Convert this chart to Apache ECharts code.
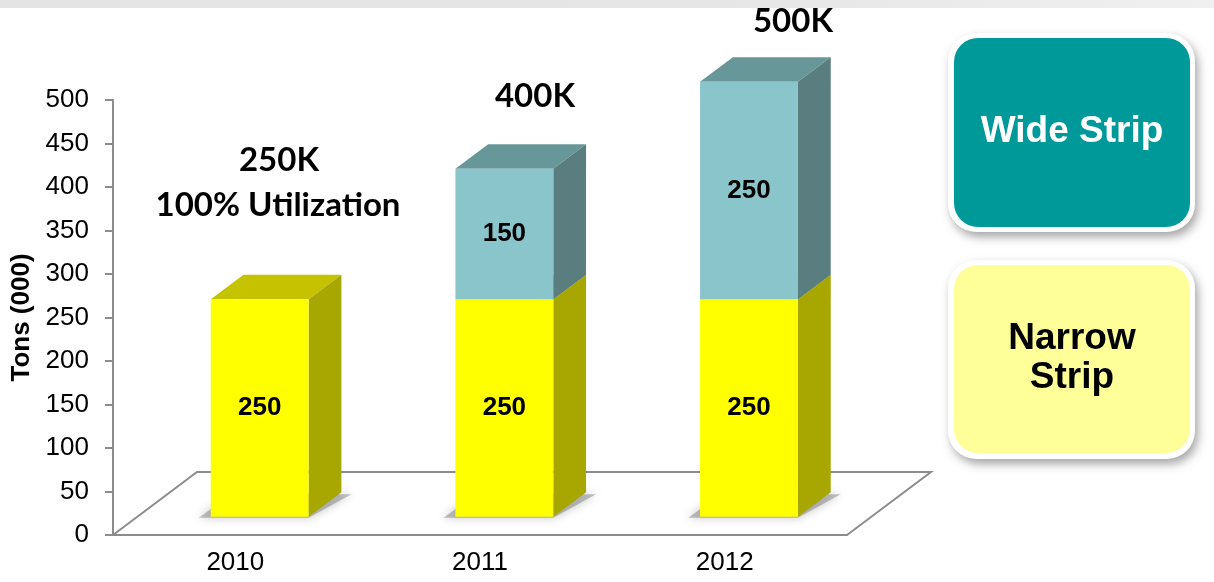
<!DOCTYPE html>
<html>
<head>
<meta charset="utf-8">
<title>Tons (000)</title>
<script src="https://cdn.jsdelivr.net/npm/echarts@6/dist/echarts.min.js"></script>
<style>
  html, body { margin: 0; padding: 0; background: #ffffff; }
  #chart { width: 1214px; height: 582px; }
</style>
</head>
<body>
<div id="chart"></div>
<script>
// Capacity by year, in thousands of tons
const years = ['2010', '2011', '2012'];
const narrowStrip = [250, 250, 250];
const wideStrip = [0, 150, 250];
const yTicks = { min: 0, max: 500, interval: 50 };

// Pseudo-3D projection: depth vector of the floor, and where the boxes sit in it
const DEPTH = [84, -63];
const BAR_FRONT = 0.29;   // fraction of depth to the front face of each box
const BAR_DEPTH = 0.39;   // fraction of depth occupied by each box
const BAR_WIDTH = 0.40;   // fraction of the category band

const palette = {
  narrow: { front: '#FFFF00', top: '#C5C300', side: '#A8A600' },
  wide:   { front: '#8AC5CB', top: '#689799', side: '#5A7E80' }
};

function segments(values, below) {
  return values.map((v, i) => {
    const base = below ? below[i] : 0;
    return [i, base, base + v, v];
  });
}

function boxRenderer(colors) {
  return function (params, api) {
    const v = api.value(3);
    if (!v) return null;
    const cat = api.value(0);
    const band = api.size([1, 0])[0];
    const w = band * BAR_WIDTH;
    const pb = api.coord([cat, api.value(1)]);
    const pt = api.coord([cat, api.value(2)]);
    const ox = DEPTH[0] * BAR_FRONT, oy = DEPTH[1] * BAR_FRONT;
    const dx = DEPTH[0] * BAR_DEPTH, dy = DEPTH[1] * BAR_DEPTH;
    const x0 = pb[0] - w / 2 + ox, x1 = x0 + w;
    const yb = pb[1] + oy, yt = pt[1] + oy;
    const children = [];
    if (api.value(1) === 0) {
      // soft shadow cast on the floor
      children.push({
        type: 'polygon',
        shape: { points: [[x0 - 12, yb + 1], [x1, yb + 1], [x1 + dx + 10, yb + dy + 2], [x0 + dx - 12, yb + dy + 2]] },
        style: { fill: 'rgba(130,130,130,0.5)', shadowBlur: 10, shadowColor: 'rgba(110,110,110,0.8)' },
        z2: 0
      });
    }
    children.push(
      {
        type: 'polygon',
        shape: { points: [[x0, yt], [x1, yt], [x1 + dx, yt + dy], [x0 + dx, yt + dy]] },
        style: { fill: colors.top }, z2: 1
      },
      {
        type: 'polygon',
        shape: { points: [[x1, yb], [x1 + dx, yb + dy], [x1 + dx, yt + dy], [x1, yt]] },
        style: { fill: colors.side }, z2: 1
      },
      {
        type: 'rect',
        shape: { x: x0, y: yt, width: w, height: yb - yt },
        style: { fill: colors.front }, z2: 2
      },
      {
        type: 'text',
        style: {
          text: String(v), x: (x0 + x1) / 2, y: (yt + yb) / 2,
          align: 'center', verticalAlign: 'middle',
          fontFamily: 'Liberation Sans, Arial, sans-serif', fontWeight: 'bold',
          fontSize: 26, fill: '#000000'
        },
        z2: 3
      }
    );
    return { type: 'group', children: children };
  };
}

function floorRenderer(params, api) {
  const band = api.size([1, 0])[0];
  const pL = api.coord([0, 0]);
  const pR = api.coord([years.length - 1, 0]);
  const xL = pL[0] - band / 2, xR = pR[0] + band / 2, y = pL[1];
  return {
    type: 'polyline',
    shape: { points: [[xL, y], [xL + DEPTH[0], y + DEPTH[1]], [xR + DEPTH[0], y + DEPTH[1]], [xR, y]] },
    style: { stroke: '#8C8C8C', lineWidth: 2, fill: null }
  };
}

const totals = years.map((_, i) => narrowStrip[i] + wideStrip[i]);
const boldNote = { fontFamily: 'Lato, sans-serif', fontWeight: 'bold', fontSize: 33, fill: '#000', align: 'center', verticalAlign: 'middle' };
const legendText = { fontFamily: 'Liberation Sans, Arial, sans-serif', fontWeight: 'bold', fontSize: 37, align: 'center', verticalAlign: 'middle' };

const chart = echarts.init(document.getElementById('chart'), null, { renderer: 'canvas' });
chart.setOption({
  backgroundColor: '#ffffff',
  animation: false,
  grid: { left: 113, right: 367, top: 100, bottom: 47 },
  xAxis: {
    type: 'category',
    data: years,
    axisLine: { lineStyle: { color: '#8C8C8C', width: 2 } },
    axisTick: { length: 8, lineStyle: { color: '#8C8C8C', width: 2 } },
    axisLabel: { fontFamily: 'Liberation Sans, Arial, sans-serif', fontSize: 26, color: '#000', margin: 15 },
    splitLine: { show: false }
  },
  yAxis: {
    type: 'value',
    min: yTicks.min, max: yTicks.max, interval: yTicks.interval,
    name: 'Tons (000)',
    nameLocation: 'middle',
    nameRotate: 90,
    nameGap: 71,
    nameTextStyle: { fontFamily: 'Liberation Sans, Arial, sans-serif', fontWeight: 'bold', fontSize: 26, color: '#000' },
    axisLine: { show: true, lineStyle: { color: '#8C8C8C', width: 2 } },
    axisTick: { show: true, length: 8, lineStyle: { color: '#8C8C8C', width: 2 } },
    axisLabel: { fontFamily: 'Liberation Sans, Arial, sans-serif', fontSize: 26, color: '#000', margin: 24 },
    splitLine: { show: false }
  },
  series: [
    { type: 'custom', name: 'Floor', data: [[0, 0]], renderItem: floorRenderer, z: 1, silent: true },
    { type: 'custom', name: 'Narrow Strip', data: segments(narrowStrip), renderItem: boxRenderer(palette.narrow), z: 3 },
    { type: 'custom', name: 'Wide Strip', data: segments(wideStrip, narrowStrip), renderItem: boxRenderer(palette.wide), z: 3 }
  ],
  graphic: [
    {
      type: 'rect', left: 0, top: 0, z: 0,
      shape: { width: 1214, height: 8 },
      style: { fill: new echarts.graphic.LinearGradient(0, 0, 1, 0, [
        { offset: 0, color: '#E4E4E4' }, { offset: 0.6, color: '#E6E6E6' }, { offset: 1, color: '#F0F0F0' }
      ]) }
    },
    // annotations
    { type: 'text', x: 279, y: 160, style: Object.assign({ text: totals[0] + 'K' }, boldNote), z: 10 },
    { type: 'text', x: 278, y: 205, style: Object.assign({ text: '100% Utilization' }, boldNote), z: 10 },
    { type: 'text', x: 535, y: 96, style: Object.assign({ text: totals[1] + 'K' }, boldNote), z: 10 },
    { type: 'text', x: 793, y: 21, style: Object.assign({ text: totals[2] + 'K' }, boldNote), z: 10 },
    // series key boxes
    {
      type: 'rect', z: 10,
      shape: { x: 948, y: 33, width: 247, height: 199, r: 28 },
      style: { fill: '#FFFFFF', shadowBlur: 10, shadowOffsetX: 3, shadowOffsetY: 5, shadowColor: 'rgba(0,0,0,0.35)' }
    },
    {
      type: 'rect', z: 11,
      shape: { x: 954, y: 38, width: 236, height: 189, r: 24 },
      style: { fill: '#009999' }
    },
    { type: 'text', x: 1072, y: 132, z: 12, style: Object.assign({ text: 'Wide Strip', fill: '#FFFFFF' }, legendText) },
    {
      type: 'rect', z: 10,
      shape: { x: 948, y: 260, width: 247, height: 199, r: 28 },
      style: { fill: '#FFFFFF', shadowBlur: 10, shadowOffsetX: 3, shadowOffsetY: 5, shadowColor: 'rgba(0,0,0,0.35)' }
    },
    {
      type: 'rect', z: 11,
      shape: { x: 954, y: 265, width: 236, height: 188, r: 24 },
      style: { fill: '#FFFF99' }
    },
    { type: 'text', x: 1072, y: 358, z: 12, style: Object.assign({ text: 'Narrow\nStrip', fill: '#000000', lineHeight: 39 }, legendText) }
  ]
});
</script>
</body>
</html>
